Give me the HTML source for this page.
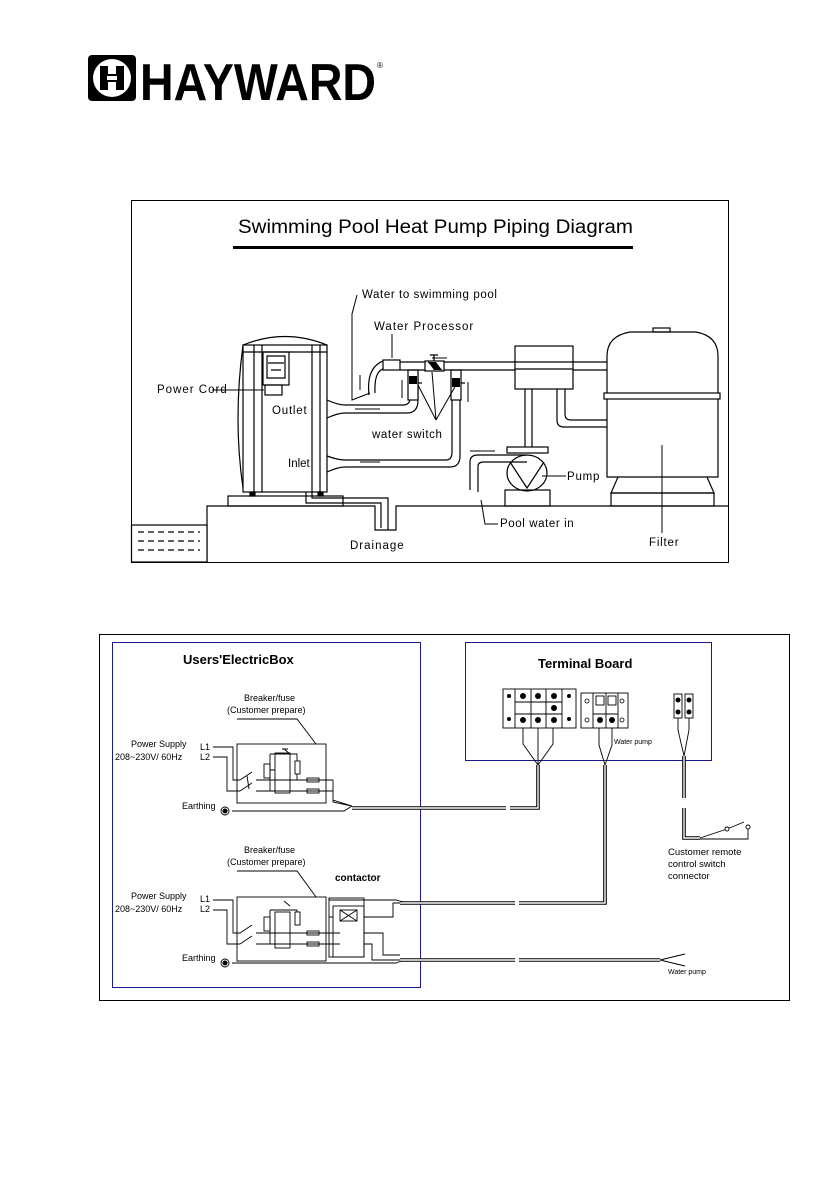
<!DOCTYPE html>
<html><head><meta charset="utf-8"><style>
html,body{margin:0;padding:0;background:#fff}
svg{display:block}
text{font-family:"Liberation Sans",sans-serif;fill:#000}
</style></head><body>
<svg width="840" height="1190" viewBox="0 0 840 1190" xmlns="http://www.w3.org/2000/svg">
<!-- LOGO -->
<rect x="88" y="55" width="48" height="46" rx="4" fill="#000"/>
<circle cx="112" cy="78" r="19" fill="#fff"/>
<rect x="100" y="66" width="8" height="24" fill="#000"/>
<rect x="116" y="66" width="8" height="24" fill="#000"/>
<rect x="100" y="74" width="24" height="8" fill="#000"/>
<rect x="107" y="76" width="10" height="4" fill="#fff"/>
<text x="140" y="100" font-size="52" font-weight="bold" textLength="236" lengthAdjust="spacingAndGlyphs">HAYWARD</text>
<text x="377" y="68" font-size="8">®</text>

<!-- PIPING DIAGRAM -->
<rect x="131.5" y="200.5" width="597" height="362" fill="none" stroke="#000" stroke-width="1"/>
<text x="238" y="233" font-size="19" textLength="395" lengthAdjust="spacingAndGlyphs">Swimming Pool Heat Pump Piping Diagram</text>
<rect x="233" y="246" width="400" height="3" fill="#000"/>

<g fill="none" stroke="#000" stroke-width="1.2">
<!-- ground -->
<path d="M207 562 V506 H375 V530 H396 V506 H729"/>
<rect x="131.5" y="525" width="75.5" height="37" fill="#fff"/>
<path d="M138 532 H200 M138 541 H200 M138 550 H200" stroke-dasharray="6 4"/>
<!-- heat pump -->
<rect x="228" y="496" width="115" height="10"/>
<path d="M243 345 Q285 328 327 345"/>
<rect x="243" y="345" width="84" height="147"/>
<path d="M243 345 Q233 420 243 488"/>
<path d="M254 345 V492 M262 345 V492 M312 345 V492 M320 345 V492 M243 352 H327"/>
<rect x="263" y="352" width="26" height="33"/>
<path d="M267 356 H285 V378 H267 Z M271 370 H281 M268 363 L284 363"/>
<rect x="265" y="385" width="17" height="10"/>
<path d="M212 390 L264 390" stroke-width="1"/>
<rect x="250" y="492" width="5" height="4" fill="#000"/>
<rect x="318" y="492" width="5" height="4" fill="#000"/>
<!-- drain pipe -->
<path d="M306 492 V503 H381 V528 M312 492 V498 H388 V530"/>
<!-- outlet pipe -->
<path d="M327 400 Q338 405 345 405 H403 Q410 405 410 398 V372 M327 418 Q338 413 345 413 H407 Q418 413 418 400 V372"/>
<!-- inlet pipe -->
<path d="M327 456 Q338 460 345 460 H446 Q452 460 452 452 V372 M327 472 Q338 467 345 467 H450 Q460 467 460 456 V372"/>
<!-- switches -->
<rect x="408" y="370" width="10" height="30" fill="#fff"/>
<rect x="451" y="370" width="10" height="30" fill="#fff"/>
<path d="M418 383 h4 M461 383 h4"/>
<!-- left return pipe -->
<path d="M369 395 Q366 368 383 361 M375 393 Q374 372 383 369"/>
<rect x="383" y="360" width="17" height="10" fill="#fff"/>
<!-- top pipe -->
<path d="M400 362 H607 M400 370 H607"/>
<rect x="425" y="361" width="19" height="10" fill="#fff"/>
<path d="M428 362 L442 370 M434 355 V361 M430 355 H438"/>
<!-- central box -->
<rect x="515" y="346" width="58" height="43" fill="#fff"/>
<path d="M515 362 H573 M515 369 H573"/>
<path d="M525 389 V447 M532 389 V447"/>
<path d="M557 389 V420 Q557 427 564 427 H607 M565 389 V414 Q565 420 571 420 H607"/>
<!-- pump -->
<path d="M470 490 V462 Q470 455 478 455 H527 M478 492 V466 Q478 462 484 462 H527"/>
<rect x="507" y="447" width="41" height="6"/>
<ellipse cx="527" cy="473" rx="20" ry="18"/>
<path d="M510 462 L527 488 L544 462"/>
<rect x="505" y="490" width="45" height="16"/>
<!-- filter -->
<path d="M607 477 V356 Q607 336 630 332 H696 Q718 336 718 356 V477 Z"/>
<rect x="653" y="328" width="17" height="4"/>
<rect x="604" y="393" width="116" height="6" fill="#fff"/>
<path d="M618 477 L611 493 H714 L707 477"/>
<rect x="611" y="493" width="103" height="13"/>
</g>
<!-- dark valves -->
<g fill="#000">
<rect x="409" y="376" width="8" height="8" transform="rotate(0)"/>
<rect x="452" y="378" width="8" height="9"/>
<polygon points="428,362 436,362 442,370 434,370"/>
</g>
<!-- leaders and arrows -->
<g fill="none" stroke="#000" stroke-width="1">
<path d="M357 295 L352 314 V400 L370 393"/>
<path d="M392 334 V358"/>
<path d="M436 420 L432 372 M436 420 L418 385 M436 420 L456 385"/>
<path d="M447 358 H432 M360 375 V390 M402 398 V380 M468 382 V402"/>
<path d="M355 409 H380 M380 462 H360 M470 451 H495"/>
<path d="M542 476 H566 M481 500 L485 524 H498 M662 445 V533"/>
</g>
<text x="362" y="298" font-size="11.5" letter-spacing="0.6">Water to swimming pool</text>
<text x="374" y="330" font-size="11.5" letter-spacing="1">Water Processor</text>
<text x="157" y="393" font-size="11.5" letter-spacing="1">Power Cord</text>
<text x="272" y="414" font-size="11.5" letter-spacing="0.8">Outlet</text>
<text x="372" y="438" font-size="11.5" letter-spacing="0.6">water switch</text>
<text x="288" y="467" font-size="11.5">Inlet</text>
<text x="567" y="480" font-size="11.5" letter-spacing="0.8">Pump</text>
<text x="500" y="527" font-size="11.5" letter-spacing="0.6">Pool water in</text>
<text x="350" y="549" font-size="11.5" letter-spacing="1">Drainage</text>
<text x="649" y="546" font-size="11.5" letter-spacing="0.8">Filter</text>

<!-- WIRING DIAGRAM -->
<rect x="99.5" y="634.5" width="690" height="366" fill="none" stroke="#000" stroke-width="1"/>
<rect x="112.5" y="642.5" width="308" height="345" fill="none" stroke="#1a1a8c" stroke-width="1"/>
<rect x="465.5" y="642.5" width="246" height="118" fill="none" stroke="#1a1a8c" stroke-width="1"/>
<text x="183" y="664" font-size="13" font-weight="bold">Users'ElectricBox</text>
<text x="538" y="668" font-size="13" font-weight="bold">Terminal Board</text>

<g font-size="9">
<text x="244" y="701">Breaker/fuse</text>
<text x="227" y="713">(Customer prepare)</text>
<text x="131" y="747">Power Supply</text>
<text x="115" y="760">208~230V/ 60Hz</text>
<text x="200" y="750">L1</text><text x="200" y="760">L2</text>
<text x="182" y="809">Earthing</text>
<text x="244" y="853">Breaker/fuse</text>
<text x="227" y="865">(Customer prepare)</text>
<text x="131" y="899">Power Supply</text>
<text x="115" y="912">208~230V/ 60Hz</text>
<text x="200" y="902">L1</text><text x="200" y="912">L2</text>
<text x="182" y="961">Earthing</text>
<text x="335" y="881" font-size="10" font-weight="bold">contactor</text>
<text x="614" y="744" font-size="7">Water pump</text>
<text x="668" y="974" font-size="7">Water pump</text>
<text x="668" y="855" font-size="9.5">Customer remote</text>
<text x="668" y="867" font-size="9.5">control switch</text>
<text x="668" y="879" font-size="9.5">connector</text>
</g>

<g fill="none" stroke="#000" stroke-width="0.9">
<!-- breaker 1 -->
<path d="M237 719 H297 L316 744"/>
<rect x="237" y="744" width="89" height="59"/>
<path d="M213 747 H233 V780 H240 M213 757 H227 V791 H240"/>
<path d="M240 780 L252 772 M240 791 L252 783 M247 776 L249 789"/>
<path d="M256 780 H305 M256 791 H305 M305 780 H333 M305 791 H333"/>
<rect x="275" y="753" width="15" height="40"/>
<rect x="264" y="764" width="6" height="14"/>
<rect x="295" y="761" width="5" height="13"/>
<path d="M270 770 H275 M270 754 V791 M270 754 H297 V761 M297 774 V780 M284 749 L290 754 M282 749 H288"/>
<rect x="307" y="778" width="12" height="4"/><rect x="307" y="789" width="12" height="4"/>
<path d="M333 780 V802 L352 806 M333 791 V800 L352 806"/>
<path d="M232 811 H344 L352 806"/>
<circle cx="225" cy="811" r="4"/>
<!-- breaker 2 -->
<path d="M237 871 H297 L316 897"/>
<rect x="237" y="897" width="89" height="64"/>
<path d="M213 900 H233 V933 H240 M213 910 H227 V944 H240"/>
<path d="M240 933 L252 925 M240 944 L252 936"/>
<path d="M256 933 H340 M256 944 H340"/>
<rect x="275" y="912" width="15" height="36"/>
<rect x="264" y="917" width="6" height="14"/>
<rect x="295" y="912" width="5" height="13"/>
<path d="M270 910 H297 V912 M270 910 V944 M284 901 L290 906"/>
<rect x="307" y="931" width="12" height="4"/><rect x="307" y="942" width="12" height="4"/>
<rect x="329" y="898" width="35" height="59"/>
<rect x="333" y="906" width="31" height="51"/>
<rect x="340" y="910" width="17" height="11"/>
<path d="M340 910 L357 921 M357 910 L340 921"/>
<path d="M329 917 H333 M364 917 H393 V903 H400 M364 933 H383 V955 H400 M364 944 H372 V960 H400"/>
<path d="M329 900 V898 M329 900 H396 L403 902"/>
<path d="M232 963 H396 L404 960"/>
<circle cx="225" cy="963" r="4"/>
</g>

<!-- double wires -->
<g fill="none" stroke="#000" stroke-width="3.6">
<path d="M352 808 H538 V765"/>
<path d="M400 903 H605 V765"/>
<path d="M400 960 H660"/>
<path d="M684 756 V798 M684 808 V838 H700"/>
</g>
<g fill="none" stroke="#fff" stroke-width="1.4">
<path d="M352 808 H538 V765"/>
<path d="M400 903 H605 V765"/>
<path d="M400 960 H660"/>
<path d="M684 756 V798 M684 808 V838 H700"/>
</g>
<g stroke="#fff" stroke-width="4">
<path d="M508 804 V812 M517 899 V907 M517 956 V964"/>
</g>
<g fill="none" stroke="#000" stroke-width="0.9">
<path d="M660 960 L685 954 M660 960 L685 966"/>
<path d="M700 838 L727 829 M700 839 L748 839 V827 M727 829 L744 822"/>
<circle cx="727" cy="829" r="2" fill="#fff"/><circle cx="748" cy="827" r="2" fill="#fff"/>
<!-- terminal block 1 -->
<rect x="503" y="689" width="73" height="39"/>
<path d="M515 689 V728 M531 689 V728 M546 689 V728 M562 689 V728 M515 702 H562 M515 714 H562"/>
<path d="M523 728 V744 L538 765 M538 728 V765 M553 728 V744 L538 765"/>
<!-- block 2 -->
<rect x="581" y="693" width="47" height="35"/>
<path d="M593 693 V728 M606 693 V728 M618 693 V728 M593 714 H618"/>
<rect x="596" y="696" width="8" height="9"/><rect x="608" y="696" width="8" height="9"/>
<path d="M599 728 V745 L605 765 M612 728 V745 L605 765"/>
<!-- block 3 -->
<rect x="674" y="694" width="8" height="24"/><rect x="685" y="694" width="8" height="24"/>
<path d="M678 718 V730 L684 756 M689 718 V730 L684 756"/>
</g>
<g fill="#000">
<circle cx="509" cy="696" r="2"/><circle cx="509" cy="719" r="2"/><circle cx="569" cy="696" r="2"/><circle cx="569" cy="719" r="2"/>
<circle cx="523" cy="696" r="3"/><circle cx="538" cy="696" r="3"/><circle cx="554" cy="696" r="3"/><circle cx="554" cy="708" r="3"/>
<circle cx="523" cy="720" r="3"/><circle cx="538" cy="720" r="3"/><circle cx="554" cy="720" r="3"/>
<circle cx="600" cy="720" r="3"/><circle cx="612" cy="720" r="3"/>
<circle cx="678" cy="700" r="2.5"/><circle cx="678" cy="712" r="2.5"/><circle cx="689" cy="700" r="2.5"/><circle cx="689" cy="712" r="2.5"/>
<circle cx="225" cy="811" r="2.5"/><circle cx="225" cy="963" r="2.5"/>
</g>
<g fill="none" stroke="#000" stroke-width="0.8">
<circle cx="587" cy="701" r="2"/><circle cx="587" cy="720" r="2"/><circle cx="622" cy="701" r="2"/><circle cx="622" cy="720" r="2"/>
</g>
</svg>
</body></html>
